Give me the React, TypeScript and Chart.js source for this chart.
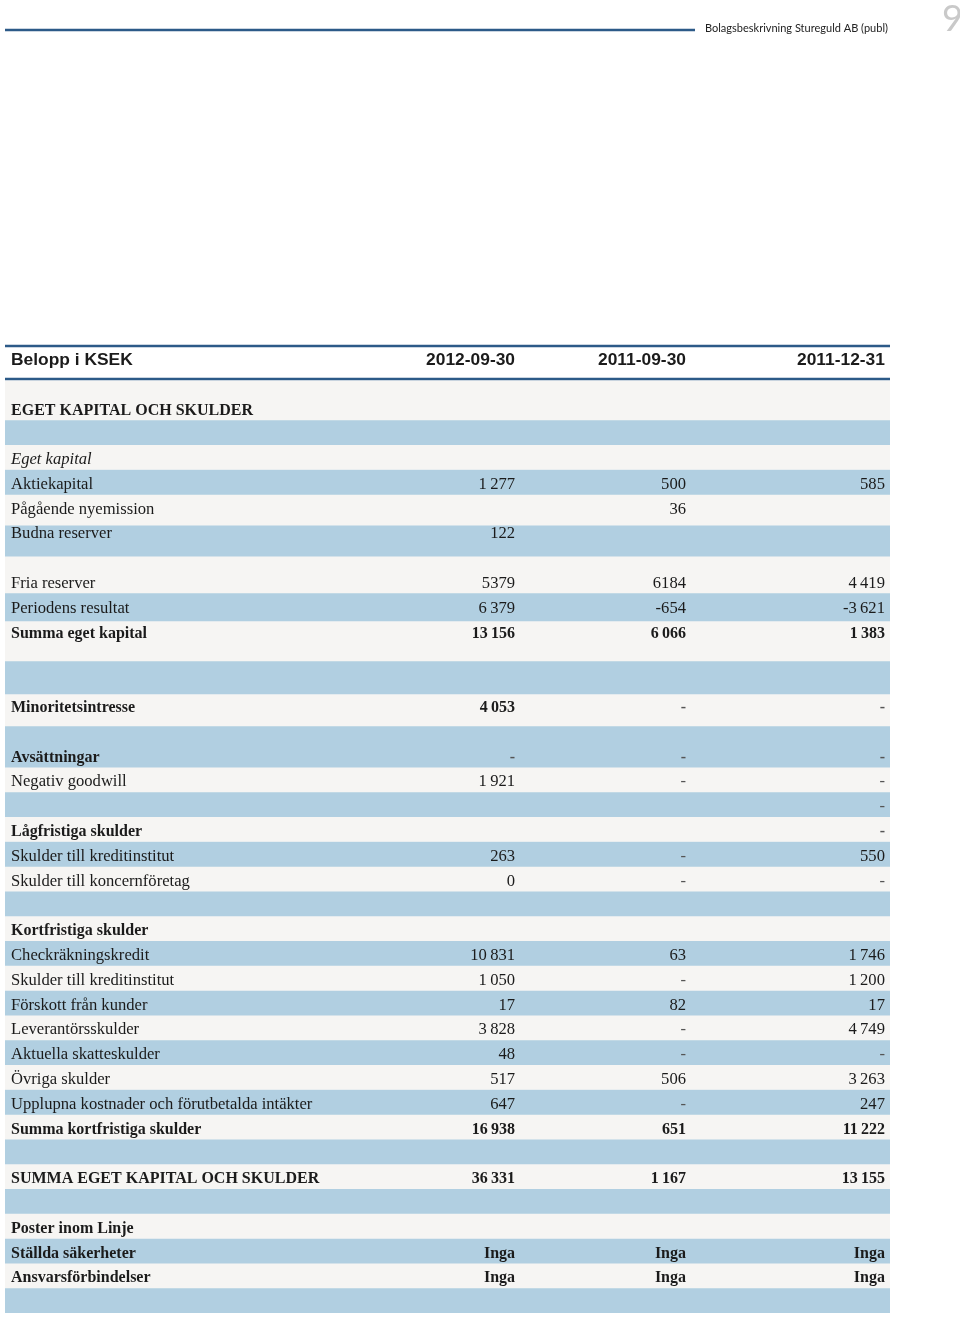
import { useEffect, useRef } from "react";
import { Chart, registerables } from "chart.js";

Chart.register(...registerables);

const pageTitle = "Bolagsbeskrivning Stureguld AB (publ)";
const pageNumber = "9";
const headerLabel = "Belopp i KSEK";
const periods = ["2012-09-30", "2011-09-30", "2011-12-31"];

const rowLabels = [
  "EGET KAPITAL OCH SKULDER",
  "",
  "Eget kapital",
  "Aktiekapital",
  "Pågående nyemission",
  "Budna reserver",
  "",
  "Fria reserver",
  "Periodens resultat",
  "Summa eget kapital",
  "",
  "",
  "Minoritetsintresse",
  "",
  "Avsättningar",
  "Negativ goodwill",
  "",
  "Lågfristiga skulder",
  "Skulder till kreditinstitut",
  "Skulder till koncernföretag",
  "",
  "Kortfristiga skulder",
  "Checkräkningskredit",
  "Skulder till kreditinstitut",
  "Förskott från kunder",
  "Leverantörsskulder",
  "Aktuella skatteskulder",
  "Övriga skulder",
  "Upplupna kostnader och förutbetalda intäkter",
  "Summa kortfristiga skulder",
  "",
  "SUMMA EGET KAPITAL OCH SKULDER",
  "",
  "Poster inom Linje",
  "Ställda säkerheter",
  "Ansvarsförbindelser",
];

const values20120930 = [
  "", "", "", "1 277", "", "122", "", "5379", "6 379", "13 156", "", "", "4 053", "",
  "-", "1 921", "", "", "263", "0", "", "", "10 831", "1 050", "17", "3 828", "48",
  "517", "647", "16 938", "", "36 331", "", "", "Inga", "Inga",
];
const values20110930 = [
  "", "", "", "500", "36", "", "", "6184", "-654", "6 066", "", "", "-", "",
  "-", "-", "", "", "-", "-", "", "", "63", "-", "82", "-", "-",
  "506", "-", "651", "", "1 167", "", "", "Inga", "Inga",
];
const values20111231 = [
  "", "", "", "585", "", "", "", "4 419", "-3 621", "1 383", "", "", "-", "",
  "-", "-", "-", "-", "550", "-", "", "", "1 746", "1 200", "17", "4 749", "-",
  "3 263", "247", "11 222", "", "13 155", "", "", "Inga", "Inga",
];

// Row band edges, in table-line units (band i spans edge i .. edge i+1)
const rowBandEdges = [
  -1.13, 0.44, 1.44, 2.44, 3.44, 4.68, 5.93, 7.42, 8.55, 10.16, 11.49, 12.78,
  14.44, 15.44, 16.44, 17.44, 18.44, 19.44, 20.44, 21.44, 22.44, 23.44, 24.44,
  25.44, 26.44, 27.44, 28.44, 29.44, 30.44, 31.44, 32.44, 33.44, 34.44, 35.44, 36.44,
];

const boldRows = new Set([0, 9, 12, 14, 17, 21, 29, 31, 33, 34, 35]);
const italicRows = new Set([2]);

const GRAY = "#f6f5f3";
const BLUE = "#b1cfe1";
const RULE = "#2c5a88";
const INK = "#1b1b1b";

const tablePlugin = {
  id: "tableText",
  afterDatasetsDraw(chart: any) {
    const { ctx } = chart;
    const ys = chart.scales.y;
    const xc = chart.scales.xc;
    const colRight = [xc.getPixelForValue(0.5763), xc.getPixelForValue(0.7695), xc.getPixelForValue(0.9943)];
    const leftX = xc.getPixelForValue(0.0068);
    ctx.save();

    // page header
    ctx.strokeStyle = RULE;
    ctx.lineWidth = 2.5;
    ctx.beginPath();
    ctx.moveTo(5, 30);
    ctx.lineTo(695, 30);
    ctx.stroke();
    ctx.fillStyle = "#222";
    ctx.font = "11px Lato";
    ctx.textAlign = "left";
    ctx.textBaseline = "alphabetic";
    ctx.fillText(pageTitle, 705, 32);
    ctx.fillStyle = "#c9c9c9";
    ctx.font = "36px Lato";
    ctx.fillText(pageNumber, 942, 31);

    // table header rules
    ctx.strokeStyle = RULE;
    ctx.lineWidth = 2.5;
    for (const v of [-2.54, -1.21]) {
      const py = ys.getPixelForValue(v);
      ctx.beginPath();
      ctx.moveTo(xc.getPixelForValue(0), py);
      ctx.lineTo(xc.getPixelForValue(1), py);
      ctx.stroke();
    }
    const hy = ys.getPixelForValue(-2.06) + 7;
    ctx.fillStyle = INK;
    ctx.font = "bold 17.4px 'Liberation Sans'";
    ctx.textAlign = "left";
    ctx.fillText(headerLabel, leftX, hy);
    ctx.textAlign = "right";
    periods.forEach((p, i) => ctx.fillText(p, colRight[i], hy));

    // rows
    const cols = [values20120930, values20110930, values20111231];
    rowLabels.forEach((label, i) => {
      const by = ys.getPixelForValue(i) + 5.5;
      const bold = boldRows.has(i);
      const italic = italicRows.has(i);
      ctx.font = `${italic ? "italic " : ""}${bold ? "bold 16px" : "16.6px"} 'Liberation Serif'`;
      ctx.fillStyle = INK;
      ctx.textAlign = "left";
      if (label) ctx.fillText(label, leftX, by);
      ctx.textAlign = "right";
      cols.forEach((col, c) => {
        const t = col[i];
        if (!t) return;
        ctx.fillStyle = t === "-" ? "#555" : INK;
        ctx.fillText(t.replace(/ /g, "\u2009"), colRight[c], by);
      });
    });
    ctx.restore();
  },
};

export default function App() {
  const ref = useRef<HTMLCanvasElement | null>(null);
  useEffect(() => {
    if (!ref.current) return;
    const datasets = rowBandEdges.slice(0, -1).map((start, i) => ({
      label: `band${i}`,
      data: [[start, rowBandEdges[i + 1]]],
      backgroundColor: i % 2 === 0 ? GRAY : BLUE,
      borderWidth: 0,
      grouped: false,
      barPercentage: 1,
      categoryPercentage: 1,
    }));
    const chart = new Chart(ref.current, {
      type: "bar",
      data: { labels: ["table"], datasets: datasets as any },
      options: {
        responsive: false,
        animation: false,
        events: [],
        layout: { padding: { left: 5, right: 70, top: 344, bottom: 5 } },
        plugins: { legend: { display: false }, tooltip: { enabled: false } },
        scales: {
          x: { type: "category", display: false, offset: true, grid: { display: false } },
          xc: { type: "linear", display: false, offset: false, min: 0, max: 1, position: "bottom" },
          y: { type: "linear", display: false, reverse: true, min: -2.621, max: 36.452 },
        },
      },
      plugins: [tablePlugin],
    });
    return () => chart.destroy();
  }, []);
  return (
    <div style={{ position: "absolute", left: 0, top: 0, width: 960, height: 1318 }}>
      <canvas ref={ref} width={960} height={1318} style={{ display: "block" }} />
    </div>
  );
}
